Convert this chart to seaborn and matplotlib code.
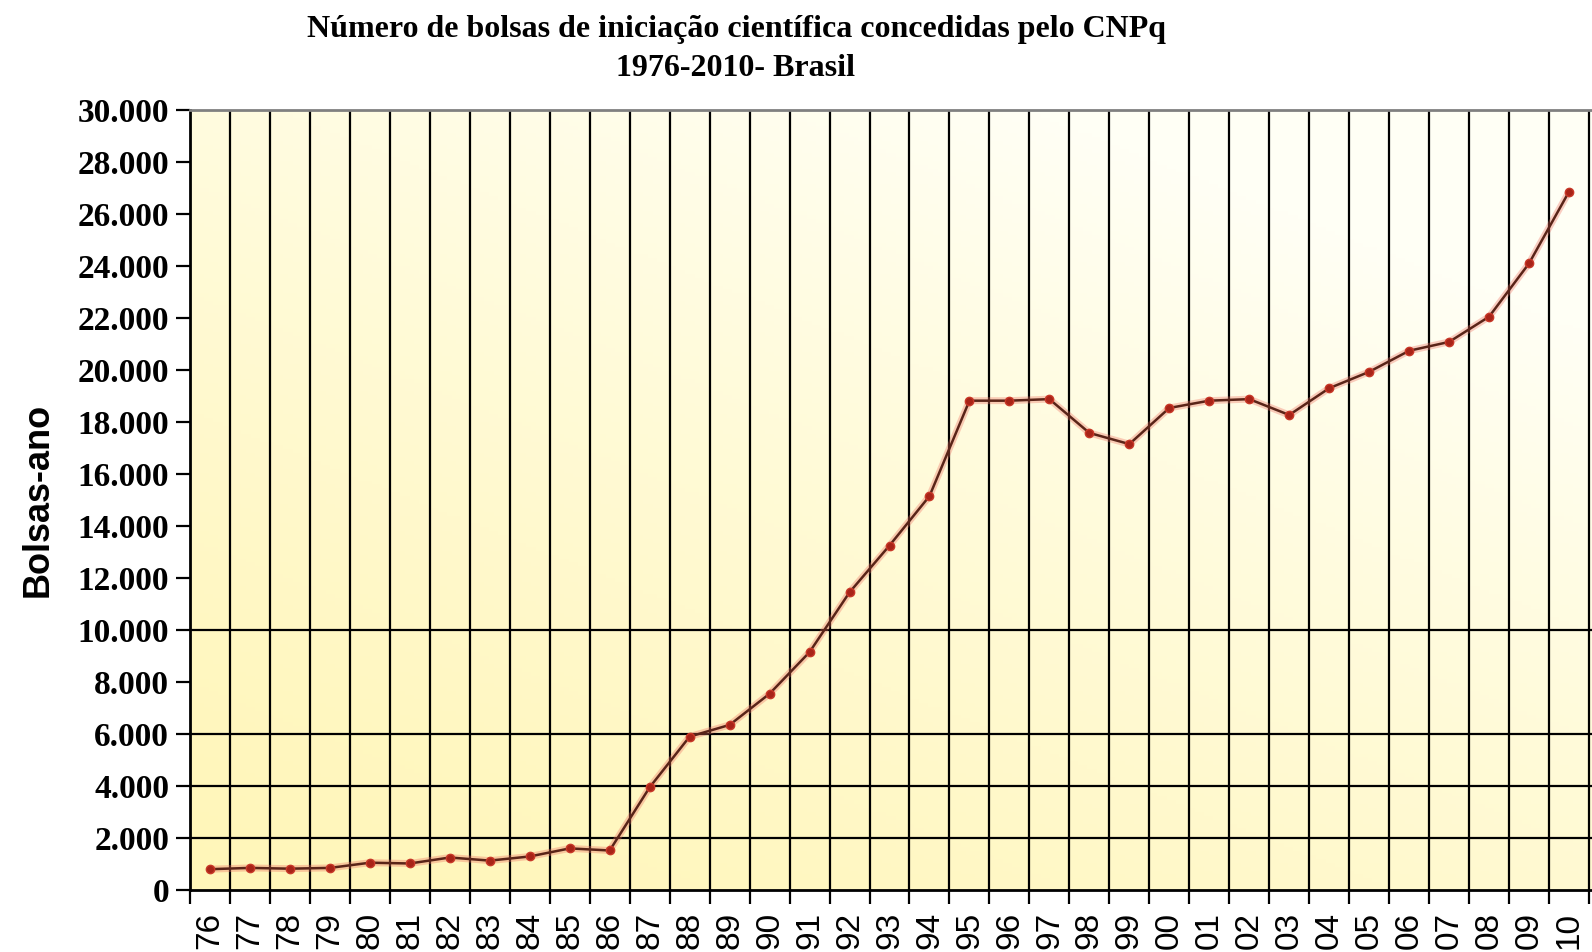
import numpy as np
import pandas as pd
import matplotlib
matplotlib.use("Agg")
import matplotlib.pyplot as plt
import seaborn as sns
from matplotlib.ticker import FuncFormatter, FixedLocator

years = ["76", "77", "78", "79", "80", "81", "82", "83", "84", "85", "86", "87",
         "88", "89", "90", "91", "92", "93", "94", "95", "96", "97", "98", "99",
         "00", "01", "02", "03", "04", "05", "06", "07", "08", "09", "10"]
bolsas = [800, 850, 820, 850, 1050, 1020, 1250, 1130, 1290, 1600, 1520, 3950,
          5900, 6350, 7550, 9150, 11450, 13250, 15150, 18820, 18820, 18880, 17580, 17150,
          18540, 18820, 18880, 18270, 19300, 19930, 20740, 21080, 22050, 24100, 26860]
y_ticks = list(range(0, 30001, 2000))
h_grid = [2000, 4000, 6000, 10000]

title_text = "Número de bolsas de iniciação científica concedidas pelo CNPq\n1976-2010- Brasil"
y_label = "Bolsas-ano"

df = pd.DataFrame({"pos": np.arange(len(years)), "ano": years, "bolsas": bolsas})

sns.set_theme(style="white")
plt.rcParams["font.family"] = ["DejaVu Sans"]
plt.rcParams["text.color"] = "black"
plt.rcParams["axes.labelcolor"] = "black"
plt.rcParams["xtick.color"] = "black"
plt.rcParams["ytick.color"] = "black"

fig = plt.figure(figsize=(15.92, 9.52), dpi=100)
ax = fig.add_axes([190 / 1592, 62 / 952, 1402 / 1592, 780 / 952])

xmin, xmax = -0.5, len(years) - 1 + 0.575
ymin, ymax = 0, 30000

# background gradient
nx, ny = 300, 200
gx = np.linspace(0, 1, nx)[None, :]
gy = np.linspace(0, 1, ny)[:, None]
t = np.clip(0.5 * gx + 0.7 * gy, 0, 1) ** 1.3
c0 = np.array([255, 246, 185]) / 255.0
c1 = np.array([255, 255, 245]) / 255.0
img = c0[None, None, :] * (1 - t[..., None]) + c1[None, None, :] * t[..., None]
ax.imshow(img, extent=(xmin, xmax, ymin, ymax), origin="lower", aspect="auto", zorder=0)

# grid lines
for b in np.arange(0.5, len(years) - 0.5 + 1, 1.0):
    ax.axvline(b, color="black", lw=1.6, zorder=1)
for h in h_grid:
    ax.axhline(h, color="black", lw=1.6, zorder=1)

# glow + line
sns.lineplot(data=df, x="pos", y="bolsas", ax=ax, color="#f07060", lw=5, alpha=0.35,
             zorder=2, legend=False)
sns.lineplot(data=df, x="pos", y="bolsas", ax=ax, color="#5a2418", lw=1.8,
             marker="o", markersize=6, markerfacecolor="#a82418",
             markeredgecolor="#c83828", markeredgewidth=1.0, zorder=3, legend=False)

ax.set_xlim(xmin, xmax)
ax.set_ylim(ymin, ymax)

ax.set_yticks(y_ticks)
ax.yaxis.set_major_formatter(FuncFormatter(lambda v, p: f"{int(v):,}".replace(",", ".")))
for lab in ax.get_yticklabels():
    lab.set_fontfamily("Liberation Serif")
    lab.set_fontweight("bold")
    lab.set_fontsize(24)
    lab.set_color("black")
ax.tick_params(axis="y", which="major", length=10, width=1.6, color="black", pad=5, left=True)

ax.set_xticks(df["pos"])
ax.set_xticklabels(years, rotation=90, fontsize=24, fontfamily="Liberation Sans", color="black")
ax.tick_params(axis="x", which="major", length=0, pad=16, bottom=True)
ax.xaxis.set_minor_locator(FixedLocator(np.arange(-0.5, len(years), 1.0)))
ax.tick_params(axis="x", which="minor", length=10, width=1.6, color="black", bottom=True)

ax.set_xlabel("")
ax.set_ylabel(y_label, fontsize=26, fontweight="bold", fontfamily="Liberation Sans",
              labelpad=16, color="black")

for side in ["left", "bottom"]:
    ax.spines[side].set_color("black")
    ax.spines[side].set_linewidth(2)
ax.spines["top"].set_color("#808080")
ax.spines["top"].set_linewidth(2)
ax.spines["right"].set_visible(False)

fig.text(736 / 1592, 1 - 49 / 952, title_text, ha="center", va="center", color="black",
         fontsize=23, fontweight="bold", fontfamily="Liberation Serif", linespacing=1.45)

fig.savefig("out.png", dpi=100, facecolor="white")
